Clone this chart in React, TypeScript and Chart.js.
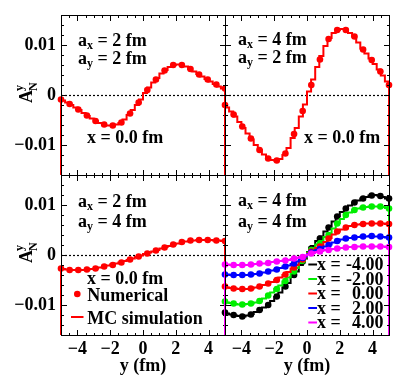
import React, { useEffect, useRef } from 'react';
import { Chart, registerables } from 'chart.js';

Chart.register(...registerables);

const FONT = "'Liberation Serif', 'Times New Roman', Times, serif";

// ---- axes ----
const xRange = [-5, 5];
const yRange = [-0.016, 0.016];
const xTickValues = [-4, -2, 0, 2, 4];
const yTickValues = [-0.01, 0, 0.01];
const xMinorStep = 0.5;
const yMinorStep = 0.002;
const xTitle = 'y (fm)';

// ---- numerical points (x positions) ----
const dotX = [-5, -4.474, -3.947, -3.421, -2.895, -2.368, -1.842, -1.316, -0.789, -0.263,
  0.263, 0.789, 1.316, 1.842, 2.368, 2.895, 3.421, 3.947, 4.474, 5];

// ---- MC histogram bin edges ----
const binEdges = [-5, -4.75, -4.5, -4.25, -4, -3.75, -3.5, -3.25, -3, -2.75, -2.5, -2.25, -2, -1.75,
  -1.5, -1.25, -1, -0.75, -0.5, -0.25, 0, 0.25, 0.5, 0.75, 1, 1.25, 1.5, 1.75, 2, 2.25, 2.5, 2.75,
  3, 3.25, 3.5, 3.75, 4, 4.25, 4.5, 4.75, 5];

// ---- panel (a_x=2, a_y=2) ----
const numTL = [-0.0009, -0.0018, -0.0029, -0.0041, -0.0052, -0.0059, -0.0061, -0.0055, -0.0037, -0.0015,
  0.0010, 0.0031, 0.0049, 0.0060, 0.0060, 0.0052, 0.0041, 0.0031, 0.0021, 0.0013];
const mcTL = [-0.0011, -0.0015, -0.0020, -0.0025, -0.0030, -0.0036, -0.0042, -0.0047, -0.0052, -0.0056,
  -0.0059, -0.0061, -0.0061, -0.0059, -0.0056, -0.0049, -0.0040, -0.0030, -0.0020, -0.0009,
  0.0004, 0.0015, 0.0025, 0.0034, 0.0043, 0.0050, 0.0056, 0.0060, 0.0061, 0.0060,
  0.0057, 0.0052, 0.0047, 0.0042, 0.0037, 0.0032, 0.0027, 0.0022, 0.0017, 0.0013];

// ---- panel (a_x=4, a_y=2) ----
const numTR = [-0.0020, -0.0039, -0.0063, -0.0087, -0.0110, -0.0127, -0.0131, -0.0117, -0.0078, -0.0032,
  0.0020, 0.0071, 0.0112, 0.0130, 0.0130, 0.0117, 0.0091, 0.0070, 0.0047, 0.0020];
const mcTR = [-0.0025, -0.0033, -0.0043, -0.0054, -0.0066, -0.0077, -0.0089, -0.0100, -0.0110, -0.0119,
  -0.0126, -0.0130, -0.0131, -0.0128, -0.0120, -0.0106, -0.0086, -0.0066, -0.0043, -0.0019,
  0.0007, 0.0031, 0.0056, 0.0078, 0.0098, 0.0114, 0.0124, 0.0130, 0.0132, 0.0130,
  0.0124, 0.0117, 0.0105, 0.0093, 0.0083, 0.0073, 0.0062, 0.0051, 0.0039, 0.0027];

// ---- panel (a_x=2, a_y=4) ----
const numBL = [-0.0027, -0.0030, -0.0030, -0.0029, -0.0027, -0.0023, -0.0020, -0.0015, -0.0009, -0.0003,
  0.0003, 0.0009, 0.0015, 0.0021, 0.0026, 0.0029, 0.0030, 0.0030, 0.0029, 0.0028];
const mcBL = [-0.0028, -0.0029, -0.0030, -0.0030, -0.0030, -0.0030, -0.0029, -0.0028, -0.0027, -0.0025,
  -0.0023, -0.0021, -0.0019, -0.0017, -0.0015, -0.0012, -0.0010, -0.0007, -0.0004, -0.0001,
  0.0002, 0.0005, 0.0007, 0.0010, 0.0013, 0.0016, 0.0018, 0.0021, 0.0023, 0.0025,
  0.0027, 0.0028, 0.0029, 0.0030, 0.0030, 0.0030, 0.0030, 0.0029, 0.0029, 0.0028];

// ---- panel (a_x=4, a_y=4), five x values ----
const brLabels = ['-4.00', '-2.00', '0.00', '2.00', '4.00'];
const brColors = ['#000000', '#00ee00', '#ff0000', '#0000ff', '#ff00ff'];
const numBRm4 = [-0.0115, -0.0120, -0.0123, -0.0119, -0.0110, -0.0100, -0.0083, -0.0063, -0.0040, -0.0013,
  0.0013, 0.0033, 0.0055, 0.0077, 0.0093, 0.0105, 0.0113, 0.0119, 0.0118, 0.0113];
const mcBRm4 = [-0.0117, -0.0119, -0.0121, -0.0122, -0.0123, -0.0121, -0.0118, -0.0114, -0.0110, -0.0105,
  -0.0100, -0.0092, -0.0084, -0.0075, -0.0065, -0.0056, -0.0044, -0.0033, -0.0020, -0.0007,
  0.0006, 0.0018, 0.0028, 0.0037, 0.0047, 0.0057, 0.0067, 0.0078, 0.0086, 0.0093,
  0.0099, 0.0105, 0.0109, 0.0113, 0.0116, 0.0119, 0.0120, 0.0119, 0.0116, 0.0113];
const numBRm2 = [-0.0093, -0.0097, -0.0099, -0.0097, -0.0092, -0.0081, -0.0068, -0.0052, -0.0033, -0.0011,
  0.0010, 0.0023, 0.0040, 0.0063, 0.0080, 0.0090, 0.0095, 0.0097, 0.0097, 0.0093];
const mcBRm2 = [-0.0095, -0.0096, -0.0098, -0.0099, -0.0099, -0.0098, -0.0097, -0.0095, -0.0092, -0.0087,
  -0.0081, -0.0075, -0.0068, -0.0061, -0.0053, -0.0045, -0.0036, -0.0026, -0.0016, -0.0005,
  0.0005, 0.0014, 0.0021, 0.0028, 0.0036, 0.0043, 0.0053, 0.0064, 0.0072, 0.0080,
  0.0085, 0.0090, 0.0093, 0.0095, 0.0096, 0.0097, 0.0097, 0.0097, 0.0096, 0.0094];
const numBR0 = [-0.0063, -0.0067, -0.0068, -0.0067, -0.0063, -0.0057, -0.0050, -0.0039, -0.0025, -0.0009,
  0.0007, 0.0017, 0.0033, 0.0047, 0.0055, 0.0060, 0.0062, 0.0063, 0.0063, 0.0062];
const mcBR0 = [-0.0065, -0.0066, -0.0067, -0.0068, -0.0068, -0.0068, -0.0067, -0.0065, -0.0063, -0.0060,
  -0.0057, -0.0054, -0.0050, -0.0045, -0.0040, -0.0034, -0.0027, -0.0020, -0.0012, -0.0004,
  0.0003, 0.0009, 0.0014, 0.0019, 0.0026, 0.0034, 0.0041, 0.0047, 0.0051, 0.0055,
  0.0058, 0.0060, 0.0061, 0.0062, 0.0063, 0.0063, 0.0063, 0.0063, 0.0063, 0.0062];
const numBRp2 = [-0.0039, -0.0040, -0.0040, -0.0039, -0.0037, -0.0033, -0.0029, -0.0023, -0.0017, -0.0006,
  0.0005, 0.0012, 0.0020, 0.0028, 0.0033, 0.0035, 0.0037, 0.0038, 0.0037, 0.0035];
const mcBRp2 = [-0.0039, -0.0040, -0.0040, -0.0040, -0.0040, -0.0040, -0.0039, -0.0038, -0.0037, -0.0035,
  -0.0033, -0.0031, -0.0029, -0.0026, -0.0023, -0.0021, -0.0018, -0.0013, -0.0008, -0.0003,
  0.0002, 0.0007, 0.0010, 0.0013, 0.0017, 0.0021, 0.0025, 0.0028, 0.0031, 0.0033,
  0.0034, 0.0035, 0.0036, 0.0037, 0.0037, 0.0038, 0.0037, 0.0037, 0.0036, 0.0035];
const numBRp4 = [-0.0019, -0.0020, -0.0020, -0.0019, -0.0017, -0.0016, -0.0013, -0.0011, -0.0007, -0.0004,
  0.0003, 0.0007, 0.0010, 0.0013, 0.0015, 0.0016, 0.0017, 0.0017, 0.0017, 0.0016];
const mcBRp4 = [-0.0019, -0.0020, -0.0020, -0.0020, -0.0020, -0.0020, -0.0019, -0.0018, -0.0017, -0.0017,
  -0.0016, -0.0014, -0.0013, -0.0012, -0.0011, -0.0010, -0.0008, -0.0006, -0.0004, -0.0001,
  0.0001, 0.0004, 0.0006, 0.0008, 0.0010, 0.0011, 0.0012, 0.0013, 0.0014, 0.0015,
  0.0016, 0.0016, 0.0017, 0.0017, 0.0017, 0.0017, 0.0017, 0.0017, 0.0017, 0.0016];

const RED = '#ff0000';

type Series = { num: number[]; mc: number[]; color: string };
type SubLine = { sub: string; rest: string; dx: number; dy: number };
type Panel = {
  key: string;
  pad: { left: number; top: number; right: number; bottom: number };
  showX: boolean;
  showY: boolean;
  series: Series[];
  aLines: SubLine[];
  xText?: { text: string; dx: number; dy: number };
  clipLeft: number;
  clipRight: number;
  legendBL?: boolean;
  legendBR?: boolean;
};

const PANELS: Panel[] = [
  {
    key: 'tl', pad: { left: 0, top: 15, right: 184, bottom: 215 }, showX: false, showY: true,
    series: [{ num: numTL, mc: mcTL, color: RED }],
    aLines: [{ sub: 'x', rest: ' = 2 fm', dx: 17, dy: 31 }, { sub: 'y', rest: ' = 2 fm', dx: 17, dy: 49 }],
    xText: { text: 'x = 0.0 fm', dx: 26, dy: 128 }, clipLeft: 8, clipRight: 0,
  },
  {
    key: 'tr', pad: { left: 225, top: 15, right: 20, bottom: 215 }, showX: false, showY: false,
    series: [{ num: numTR, mc: mcTR, color: RED }],
    aLines: [{ sub: 'x', rest: ' = 4 fm', dx: 13, dy: 30 }, { sub: 'y', rest: ' = 2 fm', dx: 13, dy: 48 }],
    xText: { text: 'x = 0.0 fm', dx: 79, dy: 128 }, clipLeft: 8, clipRight: 8,
  },
  {
    key: 'bl', pad: { left: 0, top: 175, right: 184, bottom: 0 }, showX: true, showY: true,
    series: [{ num: numBL, mc: mcBL, color: RED }],
    aLines: [{ sub: 'x', rest: ' = 2 fm', dx: 17, dy: 32 }, { sub: 'y', rest: ' = 4 fm', dx: 17, dy: 52 }],
    xText: { text: 'x = 0.0 fm', dx: 26, dy: 109 }, clipLeft: 8, clipRight: 0, legendBL: true,
  },
  {
    key: 'br', pad: { left: 225, top: 175, right: 20, bottom: 0 }, showX: true, showY: false,
    series: [
      { num: numBRm4, mc: mcBRm4, color: brColors[0] },
      { num: numBRm2, mc: mcBRm2, color: brColors[1] },
      { num: numBR0, mc: mcBR0, color: brColors[2] },
      { num: numBRp2, mc: mcBRp2, color: brColors[3] },
      { num: numBRp4, mc: mcBRp4, color: brColors[4] },
    ],
    aLines: [{ sub: 'x', rest: ' = 4 fm', dx: 13, dy: 31 }, { sub: 'y', rest: ' = 4 fm', dx: 13, dy: 52 }],
    clipLeft: 8, clipRight: 8, legendBR: true,
  },
];

const fmt = (v: number) => (v < 0 ? '\u2212' + String(Math.abs(v)) : String(v));

function histPoints(vals: number[]) {
  const n = vals.length;
  const pts = [{ x: binEdges[0], y: yRange[0] }];
  vals.forEach((v, i) => pts.push({ x: binEdges[i], y: v }));
  pts.push({ x: binEdges[n], y: vals[n - 1] });
  pts.push({ x: binEdges[n], y: yRange[0] });
  return pts;
}

function drawSubLabel(ctx: CanvasRenderingContext2D, x: number, y: number, base: string, sub: string, rest: string) {
  ctx.font = `bold 18px ${FONT}`;
  ctx.fillText(base, x, y);
  let cx = x + ctx.measureText(base).width;
  ctx.font = `bold 12px ${FONT}`;
  ctx.fillText(sub, cx, y + 3);
  cx += ctx.measureText(sub).width;
  ctx.font = `bold 18px ${FONT}`;
  ctx.fillText(rest, cx, y);
}

function drawFrameAndTicks(chart: any) {
  const { ctx, chartArea: a } = chart;
  const xs = chart.scales.x;
  const ys = chart.scales.y;
  const L = Math.round(a.left), R = Math.round(a.right);
  const T = Math.round(a.top), B = Math.round(a.bottom);
  ctx.save();
  ctx.fillStyle = '#000000';
  ctx.fillRect(L, T, R - L + 1, 1);
  ctx.fillRect(L, B, R - L + 1, 1);
  ctx.fillRect(L, T, 1, B - T + 1);
  ctx.fillRect(R, T, 1, B - T + 1);
  const nx = Math.round((xRange[1] - xRange[0]) / xMinorStep);
  for (let i = 1; i < nx; i++) {
    const v = xRange[0] + i * xMinorStep;
    const major = xTickValues.some((t) => Math.abs(t - v) < 1e-9);
    const len = major ? 6 : 3;
    const px = Math.round(xs.getPixelForValue(v));
    ctx.fillRect(px, B - len + 1, 1, len);
    ctx.fillRect(px, T, 1, len);
  }
  const ny = Math.round((yRange[1] - yRange[0]) / yMinorStep);
  for (let i = 1; i < ny; i++) {
    const v = yRange[0] + i * yMinorStep;
    const major = yTickValues.some((t) => Math.abs(t - v) < 1e-9);
    const len = major ? 6 : 3;
    const py = Math.round(ys.getPixelForValue(v));
    ctx.fillRect(L, py, len, 1);
    ctx.fillRect(R - len + 1, py, len, 1);
  }
  ctx.restore();
}

function makeDecor(p: Panel) {
  return {
    id: 'decor' + p.key,
    beforeDatasetsDraw(chart: any) {
      const { ctx, chartArea: a } = chart;
      const y0 = Math.round(chart.scales.y.getPixelForValue(0)) + 0.5;
      ctx.save();
      ctx.strokeStyle = '#000';
      ctx.lineWidth = 1.2;
      ctx.setLineDash([2, 2]);
      ctx.beginPath();
      ctx.moveTo(a.left, y0);
      ctx.lineTo(a.right, y0);
      ctx.stroke();
      ctx.restore();
    },
    afterDraw(chart: any) {
      drawFrameAndTicks(chart);
      const { ctx, chartArea: a } = chart;
      ctx.save();
      ctx.fillStyle = '#000';
      ctx.textAlign = 'left';
      ctx.textBaseline = 'alphabetic';
      p.aLines.forEach((l) => drawSubLabel(ctx, a.left + l.dx, a.top + l.dy, 'a', l.sub, l.rest));
      if (p.xText) {
        ctx.font = `bold 18px ${FONT}`;
        ctx.fillText(p.xText.text, a.left + p.xText.dx, a.top + p.xText.dy);
      }
      if (p.legendBL) {
        ctx.fillStyle = RED;
        ctx.beginPath();
        ctx.arc(a.left + 16.3, a.top + 119, 3.3, 0, Math.PI * 2);
        ctx.fill();
        ctx.fillRect(a.left + 10, a.top + 141, 12.5, 2);
        ctx.fillStyle = '#000';
        ctx.font = `bold 18px ${FONT}`;
        ctx.fillText('Numerical', a.left + 26.3, a.top + 125.7);
        ctx.fillText('MC simulation', a.left + 26.3, a.top + 149);
      }
      if (p.legendBR) {
        brLabels.forEach((lab, i) => {
          const by = a.top + 95 + 14.5 * i;
          ctx.fillStyle = brColors[i];
          ctx.fillRect(a.left + 83.3, by - 6.5, 8.7, 2);
          ctx.fillStyle = '#000';
          ctx.font = `bold 18px ${FONT}`;
          ctx.textAlign = 'left';
          ctx.fillText('x =', a.left + 92, by);
          ctx.textAlign = 'right';
          ctx.fillText(lab, a.left + 158.5, by);
        });
        ctx.textAlign = 'left';
      }
      if (p.showY) {
        const cy = (a.top + a.bottom) / 2;
        ctx.translate(a.left - 29, cy + 8);
        ctx.rotate(-Math.PI / 2);
        ctx.fillStyle = '#000';
        ctx.font = `bold 18px ${FONT}`;
        ctx.fillText('A', 0, 0);
        const w = ctx.measureText('A').width;
        ctx.font = `bold 12px ${FONT}`;
        ctx.fillText('N', w - 1, 5);
        ctx.fillText('y', w - 1, -9);
      }
      ctx.restore();
    },
  };
}

function makeConfig(p: Panel): any {
  const datasets: any[] = [];
  p.series.slice().reverse().forEach((s) => {
    datasets.push({
      data: s.num.map((v, i) => ({ x: dotX[i], y: v })),
      showLine: false,
      pointRadius: 3.3,
      pointHoverRadius: 3.3,
      pointBorderWidth: 0,
      pointBackgroundColor: s.color,
      backgroundColor: s.color,
      borderColor: s.color,
      clip: { left: p.clipLeft, right: p.clipRight, top: 0, bottom: 0 },
    });
    datasets.push({
      data: histPoints(s.mc),
      showLine: true,
      stepped: true,
      pointRadius: 0,
      pointHoverRadius: 0,
      borderColor: s.color,
      borderWidth: 2,
      fill: false,
      clip: { left: 1, right: 1, top: 0, bottom: 0 },
    });
  });
  const tickFont = { family: FONT, weight: 'bold', size: 18 };
  return {
    type: 'scatter',
    data: { datasets },
    options: {
      responsive: false,
      maintainAspectRatio: false,
      animation: false,
      events: [],
      layout: { autoPadding: false, padding: p.pad },
      plugins: { legend: { display: false }, tooltip: { enabled: false } },
      scales: {
        x: {
          type: 'linear', min: xRange[0], max: xRange[1], display: p.showX, position: 'bottom',
          afterBuildTicks: (s: any) => { s.ticks = xTickValues.map((v) => ({ value: v })); },
          afterFit: (s: any) => {
            s.height = p.showX ? 55 : 0;
            s.paddingLeft = 0; s.paddingRight = 0; s.paddingTop = 0; s.paddingBottom = 0;
          },
          grid: { display: false, drawTicks: false },
          border: { display: false },
          ticks: { font: tickFont, color: '#000', padding: 4, maxRotation: 0, autoSkip: false, callback: (v: number) => fmt(v) },
          title: { display: true, text: xTitle, font: tickFont, color: '#000', padding: { top: 0, bottom: 13 } },
        },
        y: {
          type: 'linear', min: yRange[0], max: yRange[1], display: p.showY, position: 'left',
          afterBuildTicks: (s: any) => { s.ticks = yTickValues.map((v) => ({ value: v })); },
          afterFit: (s: any) => {
            s.width = p.showY ? 61 : 0;
            s.paddingLeft = 0; s.paddingRight = 0; s.paddingTop = 0; s.paddingBottom = 0;
          },
          grid: { display: false, drawTicks: false },
          border: { display: false },
          ticks: { font: tickFont, color: '#000', padding: 5, autoSkip: false, callback: (v: number) => fmt(v) },
        },
      },
    },
    plugins: [makeDecor(p)],
  };
}

export default function App() {
  const refs = useRef<(HTMLCanvasElement | null)[]>([]);
  useEffect(() => {
    const charts = PANELS.map((p, i) => new Chart(refs.current[i] as HTMLCanvasElement, makeConfig(p)));
    return () => charts.forEach((c) => c.destroy());
  }, []);
  return (
    <div style={{ position: 'fixed', left: 0, top: 0, width: 409, height: 390, background: '#ffffff' }}>
      {PANELS.map((p, i) => (
        <canvas
          key={p.key}
          ref={(el) => { refs.current[i] = el; }}
          width={409}
          height={390}
          style={{ position: 'absolute', left: 0, top: 0, width: 409, height: 390 }}
        />
      ))}
    </div>
  );
}
